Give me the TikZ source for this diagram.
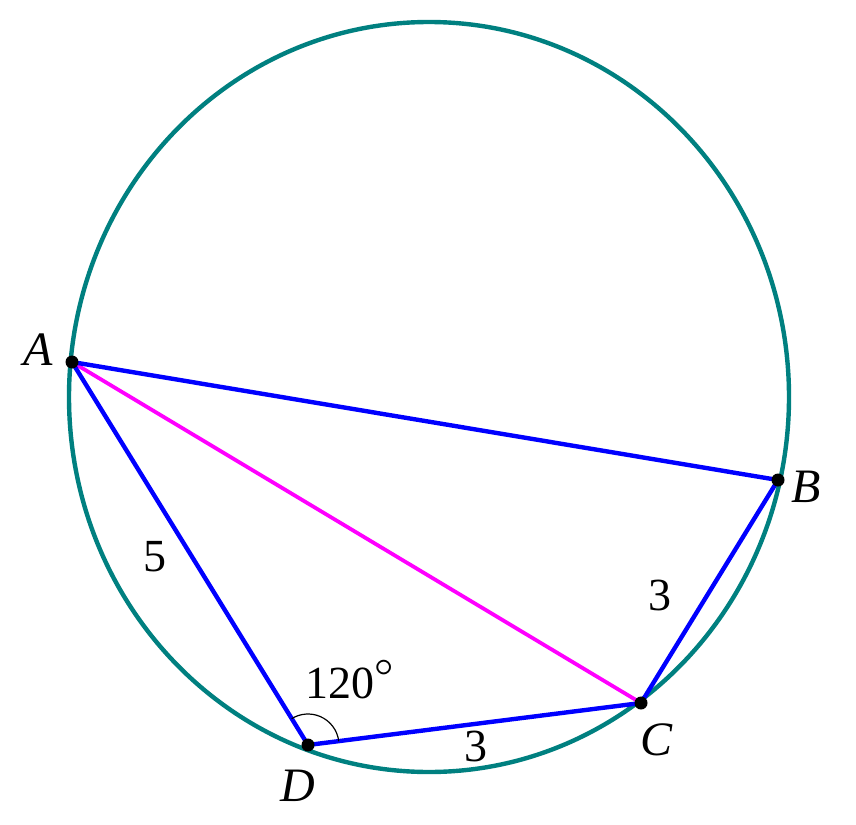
\documentclass[tikz,border=0pt]{standalone}
\usepackage{fontspec}
\setmainfont{Liberation Serif}
\newfontfamily\lmr{Latin Modern Roman}
\definecolor{circ}{RGB}{0,128,128}
\definecolor{seg}{RGB}{0,0,255}
\definecolor{diag}{RGB}{255,0,255}
\begin{document}
\begin{tikzpicture}[x=1pt,y=-1pt,
  lbl/.style={font=\fontsize{48}{54}\selectfont\itshape},
  num/.style={font=\fontsize{46}{54}\selectfont},
  dot/.style={circle,fill=black,inner sep=0pt,minimum size=13pt},
  side/.style={seg,line width=4.4pt},
  chord/.style={diag,line width=3.8pt}]
\useasboundingbox[fill=white] (0,0) rectangle (856,824);
\draw[circ,line width=4.4pt] (429,397) ellipse [x radius=360, y radius=375];
\coordinate (A) at (72,362);
\coordinate (B) at (778,480);
\coordinate (C) at (641,703);
\coordinate (D) at (308,745);
\draw[chord] (A) -- (C);
\draw[side] (A) -- (B) -- (C) -- (D) -- cycle;
\draw[black,line width=1.2pt] ([shift={(-7:31)}]D) arc[start angle=-7,end angle=-122,radius=31];
\node[dot] (dA) at (A) {};
\node[dot] (dB) at (B) {};
\node[dot] (dC) at (C) {};
\node[dot] (dD) at (D) {};
\node[lbl] (lA) at (38,350) {A};
\node[lbl] (lB) at (806,487) {B};
\node[lbl] (lC) at (656,740) {C};
\node[lbl] (lD) at (298,786) {D};
\node[num] (n5) at (155,557) {5};
\node[num] (n3a) at (660,595) {3};
\node[num] (n3b) at (476,746) {3};
\node[num,anchor=west] (n120) at (302,680) {120{\lmr\fontsize{56}{56}\selectfont °}};
\end{tikzpicture}
\end{document}
